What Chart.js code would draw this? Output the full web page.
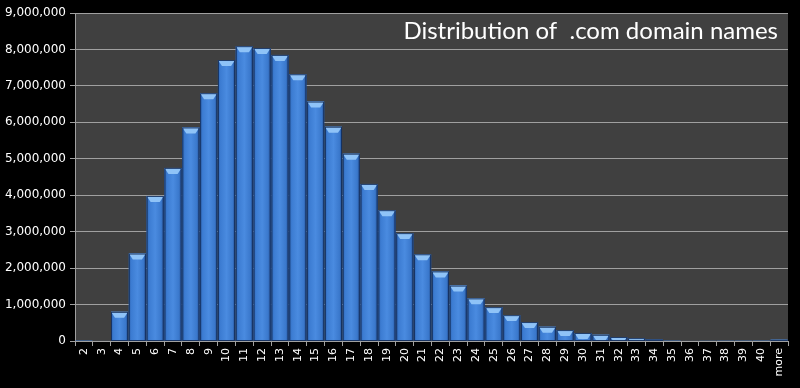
<!DOCTYPE html>
<html>
<head>
<meta charset="utf-8">
<script src="https://cdn.jsdelivr.net/npm/chart.js@4/dist/chart.umd.min.js"></script>
<style>
  html, body { margin: 0; padding: 0; background: #000; }
  #wrap { width: 800px; height: 388px; }
</style>
</head>
<body>
<div id="wrap"><canvas id="domainChart" width="800" height="388"></canvas></div>
<script>
// name lengths (characters) of .com domains
const lengths = ['2', '3', '4', '5', '6', '7', '8', '9', '10', '11', '12', '13', '14', '15', '16', '17', '18', '19', '20',
    '21', '22', '23', '24', '25', '26', '27', '28', '29', '30', '31', '32', '33', '34', '35', '36', '37', '38', '39', '40', 'more'];
const domainCounts = [1000, 15000, 800000, 2400000, 3980000, 4750000, 5860000, 6800000, 7710000, 8090000, 8040000, 7850000,
    7320000, 6570000, 5880000, 5140000, 4310000, 3590000, 2960000, 2380000, 1910000, 1520000, 1170000, 930000,
    710000, 520000, 390000, 300000, 220000, 170000, 110000, 80000, 50000, 25000, 12000, 8000, 5000, 4000, 3000, 35000];
const yTicks = [0, 1000000, 2000000, 3000000, 4000000, 5000000, 6000000, 7000000, 8000000, 9000000];
const chartTitle = 'Distribution of  .com domain names';

// dark plot area + title drawn inside it
const plotBackground = {
    id: 'plotBackground',
    beforeDraw(chart) {
        const { ctx, chartArea: a } = chart;
        ctx.save();
        ctx.fillStyle = '#000';
        ctx.fillRect(0, 0, chart.width, chart.height);
        ctx.fillStyle = '#404040';
        ctx.fillRect(a.left, a.top, a.right - a.left, a.bottom - a.top);
        ctx.restore();
    },
    afterDraw(chart) {
        const { ctx, chartArea: a } = chart;
        ctx.save();
        ctx.fillStyle = '#ffffff';
        ctx.font = '24px Lato, "Open Sans", sans-serif';
        ctx.textAlign = 'right';
        ctx.textBaseline = 'middle';
        ctx.fillText(chartTitle, a.right - 10, a.top + 18);
        ctx.restore();
    }
};

// bevelled look on each bar
const bevelBars = {
    id: 'bevelBars',
    afterDatasetsDraw(chart) {
        const ctx = chart.ctx;
        chart.getDatasetMeta(0).data.forEach(bar => {
            const left = bar.x - bar.width / 2, right = bar.x + bar.width / 2;
            const top = bar.y, bottom = bar.base;
            const h = bottom - top;
            if (h < 0.5) return;
            ctx.save();
            const g = ctx.createLinearGradient(left, 0, right, 0);
            g.addColorStop(0, '#2f66b4');
            g.addColorStop(0.15, '#3c7cd2');
            g.addColorStop(0.5, '#4a8be0');
            g.addColorStop(0.85, '#3a78cc');
            g.addColorStop(1, '#244f92');
            ctx.fillStyle = g;
            ctx.fillRect(left, top, right - left, h);
            const b = Math.min(6, h);
            const inset = Math.min(4, b * 0.8);
            ctx.beginPath();
            ctx.moveTo(left, top);
            ctx.lineTo(right, top);
            ctx.lineTo(right - inset, top + b);
            ctx.lineTo(left + inset, top + b);
            ctx.closePath();
            ctx.fillStyle = '#8fc3f7';
            ctx.fill();
            ctx.strokeStyle = 'rgba(20,45,90,0.9)';
            ctx.lineWidth = 1;
            ctx.strokeRect(left + 0.5, top + 0.5, right - left - 1, h - 0.5);
            ctx.restore();
        });
    }
};

new Chart(document.getElementById('domainChart'), {
    type: 'bar',
    data: {
        labels: lengths,
        datasets: [{
            label: 'Domains',
            data: domainCounts,
            backgroundColor: '#3c7cd2',
            barPercentage: 1,
            categoryPercentage: 0.96
        }]
    },
    options: {
        responsive: false,
        animation: false,
        layout: { padding: { top: 13, right: 12, left: 0, bottom: 0 } },
        plugins: {
            legend: { display: false },
            tooltip: { enabled: false }
        },
        scales: {
            x: {
                grid: { drawOnChartArea: false, color: '#a0a0a0', tickLength: 5 },
                border: { color: '#a0a0a0' },
                ticks: {
                    color: '#ffffff',
                    font: { size: 11, family: 'DejaVu Sans, sans-serif' },
                    minRotation: 90,
                    maxRotation: 90,
                    autoSkip: false,
                    padding: 2
                },
                afterFit(scale) { scale.height = 47; }
            },
            y: {
                min: 0,
                max: 9000000,
                afterBuildTicks(scale) { scale.ticks = yTicks.map(v => ({ value: v })); },
                grid: { color: '#a0a0a0', tickLength: 5 },
                border: { color: '#a0a0a0' },
                ticks: {
                    color: '#ffffff',
                    font: { size: 12, family: 'DejaVu Sans, sans-serif' },
                    callback: v => v.toLocaleString('en-US'),
                    padding: 4
                },
                afterFit(scale) { scale.width = 75; }
            }
        }
    },
    plugins: [plotBackground, bevelBars]
});
</script>
</body>
</html>
